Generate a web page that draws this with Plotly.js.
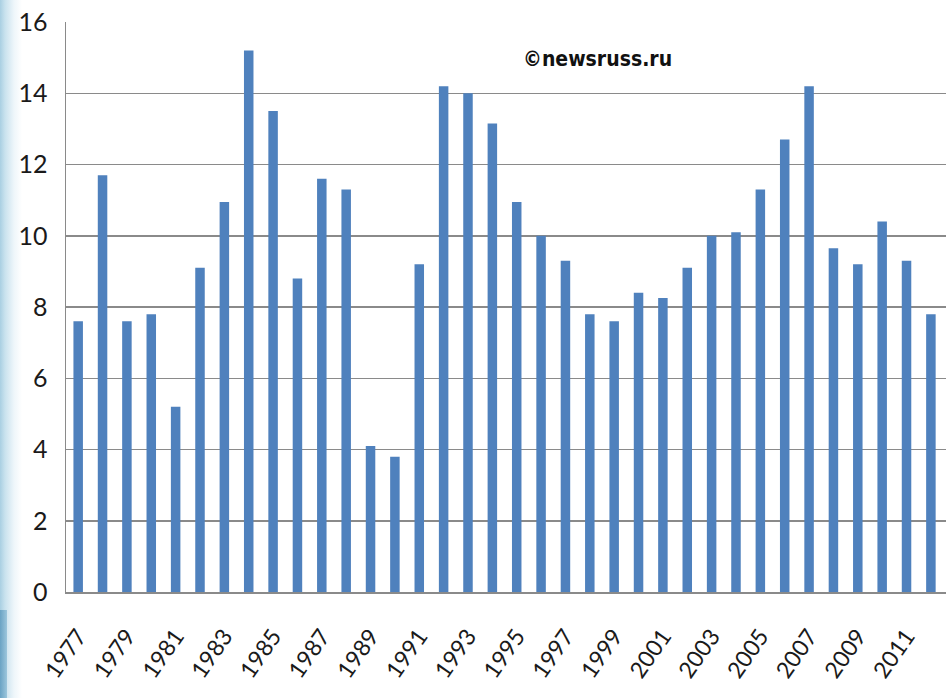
<!DOCTYPE html>
<html>
<head>
<meta charset="utf-8">
<script src="https://cdn.plot.ly/plotly-3.0.1.min.js"></script>
<style>
  html, body { margin: 0; padding: 0; width: 946px; height: 698px; overflow: hidden;
    background: linear-gradient(to right, #a9cfe2 0px, #c9e2ee 5px, #eef6fa 14px, #ffffff 22px); }
  #leftdark { position: absolute; left: 0; top: 610px; width: 7px; height: 88px;
    background: linear-gradient(to right, #6aa3c4, #9cc6dc); }
  #chart { position: absolute; left: 0; top: 0; width: 946px; height: 698px; }
</style>
</head>
<body>
<div id="leftdark"></div>
<div id="chart"></div>
<script>
const years = [1977,1978,1979,1980,1981,1982,1983,1984,1985,1986,1987,1988,1989,1990,1991,1992,1993,1994,1995,1996,1997,1998,1999,2000,2001,2002,2003,2004,2005,2006,2007,2008,2009,2010,2011,2012];
const values = [7.6,11.7,7.6,7.8,5.2,9.1,10.95,15.2,13.5,8.8,11.6,11.3,4.1,3.8,9.2,14.2,14.0,13.15,10.95,10.0,9.3,7.8,7.6,8.4,8.25,9.1,10.0,10.1,11.3,12.7,14.2,9.65,9.2,10.4,9.3,7.8];
const yTicks = [0,2,4,6,8,10,12,14,16];
const watermark = "©newsruss.ru";

const trace = {
  type: 'bar',
  x: years,
  y: values,
  marker: { color: '#4f81bd', line: { width: 0 } },
  hoverinfo: 'x+y'
};

const layout = {
  width: 946,
  height: 698,
  margin: { l: 66, r: 0, t: 22, b: 106 },
  paper_bgcolor: 'rgba(0,0,0,0)',
  plot_bgcolor: '#ffffff',
  showlegend: false,
  bargap: 0.61,
  font: { family: 'Lato, "Open Sans", sans-serif', color: '#1a1a1a' },
  xaxis: {
    range: [1976.5, 2012.62],
    tickmode: 'linear',
    tick0: 1977,
    dtick: 2,
    tickangle: -55,
    tickfont: { size: 23, color: '#1a1a1a' },
    showgrid: false,
    showline: true,
    linecolor: '#8a8a8a',
    linewidth: 1.5,
    ticks: '',
    zeroline: false,
    ticklabelstandoff: 20
  },
  yaxis: {
    range: [0, 16],
    tickvals: yTicks,
    ticktext: yTicks.map(String),
    tickfont: { size: 25, color: '#1a1a1a' },
    showgrid: true,
    gridcolor: '#8a8a8a',
    gridwidth: 1.5,
    showline: true,
    linecolor: '#8a8a8a',
    linewidth: 1.5,
    zeroline: false,
    ticks: '',
    ticklabelstandoff: 12
  },
  annotations: [{
    text: '<b>' + watermark + '</b>',
    xref: 'paper', yref: 'paper',
    x: 0.604, y: 0.935,
    xanchor: 'center', yanchor: 'middle',
    showarrow: false,
    font: { size: 21, family: '"DejaVu Sans Condensed", sans-serif', color: '#111' }
  }]
};

Plotly.newPlot('chart', [trace], layout, { displayModeBar: false, staticPlot: true });
</script>
</body>
</html>
